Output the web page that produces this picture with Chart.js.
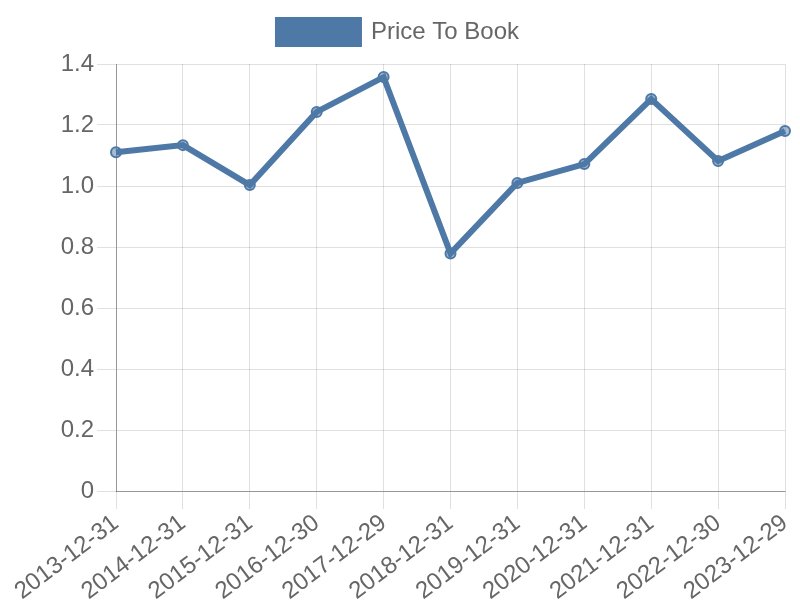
<!DOCTYPE html>
<html>
<head>
<meta charset="utf-8">
<script src="https://cdn.jsdelivr.net/npm/chart.js@4"></script>
<style>
  html, body { margin: 0; padding: 0; background: white; }
  #wrap { width: 800px; height: 600px; position: relative; }
</style>
</head>
<body>
<div id="wrap"><canvas id="chart"></canvas></div>
<script>
// dates of the annual reports
const labels = ['2013-12-31', '2014-12-31', '2015-12-31', '2016-12-30', '2017-12-29', '2018-12-31',
                '2019-12-31', '2020-12-31', '2021-12-31', '2022-12-30', '2023-12-29'];
// price to book ratio
const priceToBook = [1.111, 1.134, 1.003, 1.243, 1.357, 0.779, 1.010, 1.072, 1.285, 1.082, 1.180];
const datasetLabel = 'Price To Book';

const lineColor = '#4e79a7';

Chart.defaults.font.family = '"Liberation Sans", Arial, sans-serif';
Chart.defaults.color = '#666';

// a bit more room between legend and plot
const legendMargin = {
    id: 'legendMargin',
    beforeInit(chart) {
        const fit = chart.legend.fit;
        chart.legend.fit = function () {
            fit.bind(chart.legend)();
            this.height += 10;
        };
    }
};

new Chart(document.getElementById('chart').getContext('2d'), {
    type: 'line',
    data: {
        labels: labels,
        datasets: [{
            label: datasetLabel,
            data: priceToBook,
            fill: false,
            borderColor: lineColor,
            backgroundColor: lineColor,
            borderWidth: 6,
            tension: 0,
            pointRadius: 5,
            pointBorderWidth: 2,
            pointBackgroundColor: 'rgba(78,121,167,0.5)',
            pointBorderColor: lineColor
        }]
    },
    plugins: [legendMargin],
    options: {
        responsive: true,
        maintainAspectRatio: false,
        animation: false,
        layout: { padding: { top: 10, left: 12, right: 15 } },
        plugins: {
            legend: {
                labels: {
                    font: { size: 24 },
                    boxWidth: 81,
                    boxHeight: 24
                }
            }
        },
        scales: {
            x: {
                grid: { color: 'rgba(0,0,0,0.12)', tickLength: 18 },
                border: { color: 'rgba(0,0,0,0.33)' },
                ticks: { font: { size: 24 }, maxRotation: 37, minRotation: 37, padding: 0 },
                afterFit(scale) {
                    scale.paddingRight = 15;
                    scale.height = 109;
                }
            },
            y: {
                min: 0,
                max: 1.4,
                grid: { color: 'rgba(0,0,0,0.12)', tickLength: 19 },
                border: { color: 'rgba(0,0,0,0.33)' },
                ticks: { font: { size: 24 }, stepSize: 0.2 },
                afterFit(scale) {
                    scale.width = 104;
                }
            }
        }
    }
});
</script>
</body>
</html>
